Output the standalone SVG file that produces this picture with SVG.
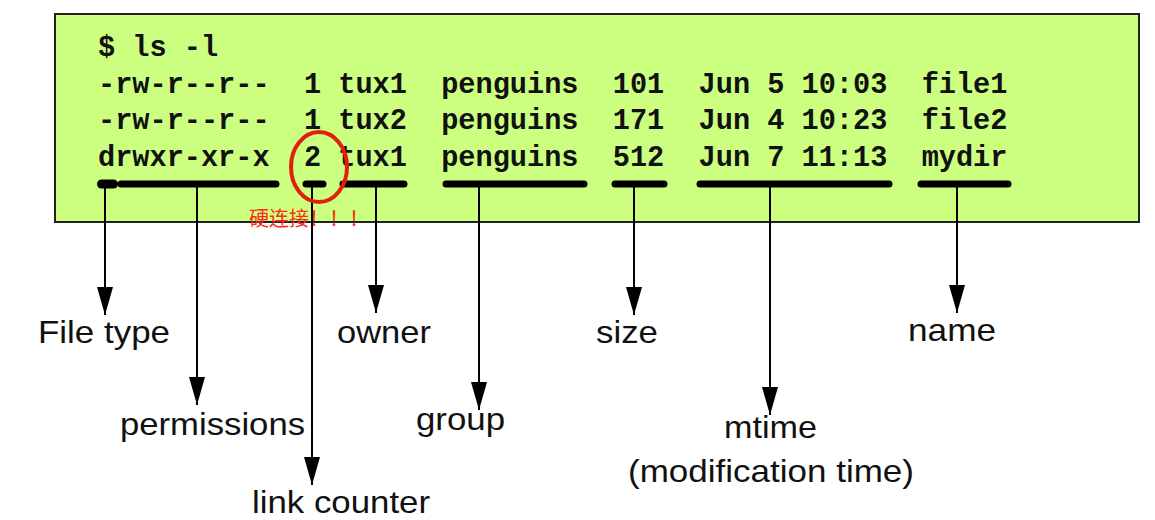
<svg xmlns="http://www.w3.org/2000/svg" width="1155" height="520" viewBox="0 0 1155 520">
<defs>
<style>
.mono{font-family:"Liberation Mono","Courier New",monospace;font-weight:bold;font-size:28.6px;fill:#111;white-space:pre}
.lbl{font-family:"Liberation Sans",Arial,sans-serif;font-size:32px;fill:#111}
.bar{stroke:#000;stroke-width:7;stroke-linecap:round;fill:none}
.conn{stroke:#000;stroke-width:2;fill:none;marker-end:url(#ah)}
</style>
<marker id="ah" markerUnits="userSpaceOnUse" markerWidth="28" markerHeight="16" refX="28" refY="8" orient="auto" viewBox="0 0 28 16">
<path d="M0,0 L28,8 L0,16 Z" fill="#000"/>
</marker>
</defs>
<rect width="1155" height="520" fill="#fff"/>
<g id="terminal">
<rect x="55" y="14" width="1084" height="208" fill="#ccff80" stroke="#222" stroke-width="2"/>
<text class="mono" x="98" y="56" xml:space="preserve">$ ls -l</text>
<text class="mono" x="98" y="92.5" xml:space="preserve">-rw-r--r--  1 tux1  penguins  101  Jun 5 10:03  file1</text>
<text class="mono" x="98" y="129" xml:space="preserve">-rw-r--r--  1 tux2  penguins  171  Jun 4 10:23  file2</text>
<text class="mono" x="98" y="165.5" xml:space="preserve">drwxr-xr-x  2 tux1  penguins  512  Jun 7 11:13  mydir</text>
</g>
<g id="bars">
<rect x="97" y="179.5" width="21" height="9" rx="4.5" fill="#000"/>
<line class="bar" x1="121" y1="184" x2="276" y2="184"/>
<line class="bar" x1="306" y1="184" x2="323" y2="184"/>
<line class="bar" x1="343" y1="184" x2="404" y2="184"/>
<line class="bar" x1="446" y1="184" x2="584" y2="184"/>
<line class="bar" x1="615" y1="184" x2="664" y2="184"/>
<line class="bar" x1="700" y1="184" x2="889" y2="184"/>
<line class="bar" x1="921" y1="184" x2="1008" y2="184"/>
</g>
<g id="connectors">
<line class="conn" x1="105" y1="184" x2="105" y2="315"/>
<line class="conn" x1="197" y1="184" x2="197" y2="405"/>
<line class="conn" x1="312" y1="184" x2="312" y2="485"/>
<line class="conn" x1="376" y1="184" x2="376" y2="313"/>
<line class="conn" x1="479" y1="184" x2="479" y2="410"/>
<line class="conn" x1="634" y1="184" x2="634" y2="315"/>
<line class="conn" x1="770" y1="184" x2="770" y2="415"/>
<line class="conn" x1="957" y1="184" x2="957" y2="313"/>
</g>
<g id="hardlink">
<ellipse cx="319" cy="167" rx="28" ry="35" fill="none" stroke="#e0200c" stroke-width="4"/>
<text x="249" y="226" style="font-family:'Noto Sans CJK SC',sans-serif;font-size:20px;fill:#ff2a1a">硬连接！！！</text>
</g>
<g id="label-filetype"><text class="lbl" x="38" y="343" textLength="132" lengthAdjust="spacingAndGlyphs">File type</text></g>
<g id="label-permissions"><text class="lbl" x="120" y="435" textLength="185" lengthAdjust="spacingAndGlyphs">permissions</text></g>
<g id="label-link"><text class="lbl" x="252" y="513" textLength="178" lengthAdjust="spacingAndGlyphs">link counter</text></g>
<g id="label-owner"><text class="lbl" x="337" y="343" textLength="94" lengthAdjust="spacingAndGlyphs">owner</text></g>
<g id="label-group"><text class="lbl" x="416" y="430" textLength="89" lengthAdjust="spacingAndGlyphs">group</text></g>
<g id="label-size"><text class="lbl" x="596" y="343" textLength="62" lengthAdjust="spacingAndGlyphs">size</text></g>
<g id="label-mtime"><text class="lbl" x="724" y="438" textLength="93" lengthAdjust="spacingAndGlyphs">mtime</text><text class="lbl" x="628" y="482" textLength="286" lengthAdjust="spacingAndGlyphs">(modification time)</text></g>
<g id="label-name"><text class="lbl" x="908" y="341" textLength="88" lengthAdjust="spacingAndGlyphs">name</text></g>
</svg>
